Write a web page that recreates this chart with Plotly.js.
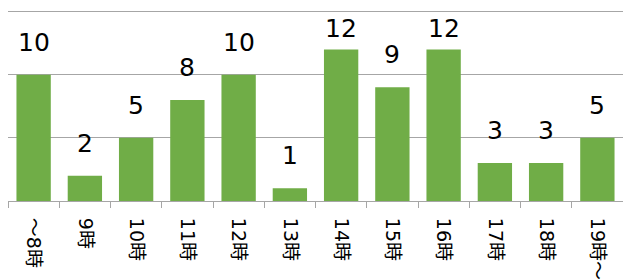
<!DOCTYPE html>
<html>
<head>
<meta charset="utf-8">
<script src="https://cdn.plot.ly/plotly-3.0.1.min.js"></script>
<style>html,body{margin:0;padding:0;background:#fff}#chart{width:623px;height:280px}</style>
</head>
<body>
<div id="chart"></div>
<script>
var categories = ["～8時", "9時", "10時", "11時", "12時", "13時", "14時", "15時", "16時", "17時", "18時", "19時～"];
var counts = [10, 2, 5, 8, 10, 1, 12, 9, 12, 3, 3, 5];
var unitLabel = "(人)";

var FONT = "DejaVu Sans, Noto Sans CJK JP, sans-serif";

var annotations = categories.map(function (c, i) {
  return {
    x: c, y: counts[i], xref: "x", yref: "y",
    text: String(counts[i]), showarrow: false,
    yanchor: "bottom", yshift: counts[i] >= 12 ? 4 : 16,
    font: {family: FONT, size: 25, color: "#000"}
  };
});
annotations.push({
  xref: "paper", yref: "paper", x: -0.018, y: 1, xanchor: "left", yanchor: "bottom",
  yshift: 6, text: unitLabel, showarrow: false,
  font: {family: FONT, size: 24, color: "#000"}
});

Plotly.newPlot("chart", [{
  type: "bar",
  x: categories,
  y: counts,
  marker: {color: "#70AD47"},
  hoverinfo: "none"
}], {
  width: 623, height: 280,
  margin: {l: 8, r: 0, t: 9, b: 79, pad: 0},
  paper_bgcolor: "#fff", plot_bgcolor: "#fff",
  bargap: 0.33,
  showlegend: false,
  xaxis: {
    type: "category",
    showline: true, linecolor: "#A6A6A6", linewidth: 1,
    ticks: "outside", tickson: "boundaries", ticklen: 6, tickcolor: "#A6A6A6",
    tickangle: 90,
    ticklabelstandoff: 12,
    tickfont: {family: FONT, size: 19, color: "#000"},
    showgrid: false, fixedrange: true
  },
  yaxis: {
    range: [0, 15.2], tickmode: "linear", dtick: 5, tick0: 0,
    showticklabels: false, ticks: "",
    showgrid: true, gridcolor: "#A6A6A6", gridwidth: 1,
    zeroline: false, showline: false, fixedrange: true
  },
  annotations: annotations
}, {staticPlot: true, displayModeBar: false});
</script>
</body>
</html>
